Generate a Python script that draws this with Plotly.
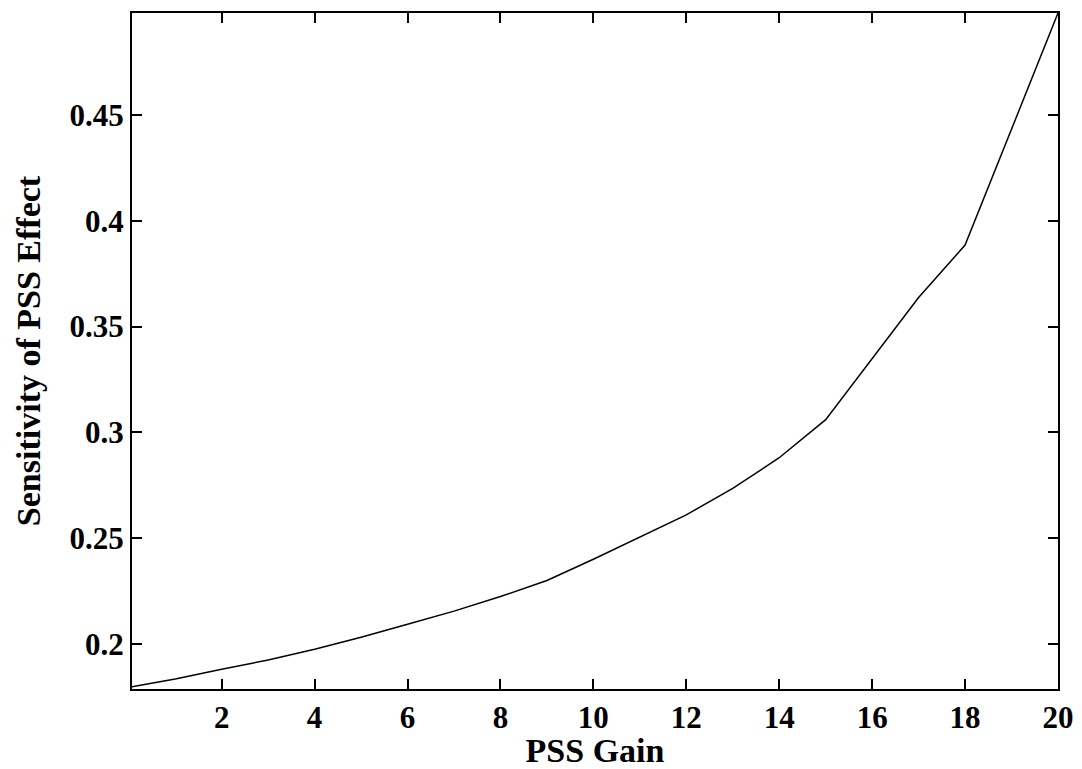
import plotly.graph_objects as go

pss_gain = [0, 1, 2, 3, 4, 5, 6, 7, 8, 9, 10, 11, 12, 13, 14, 15, 16, 17, 18, 19, 20]
sensitivity = [0.1795, 0.1834, 0.1880, 0.1924, 0.1975, 0.2032, 0.2093, 0.2155, 0.2224,
               0.2300, 0.2400, 0.2505, 0.2610, 0.2735, 0.2880, 0.3060, 0.3350, 0.3637,
               0.3885, 0.4435, 0.4982]
x_ticks = [2, 4, 6, 8, 10, 12, 14, 16, 18, 20]
y_ticks = [0.2, 0.25, 0.3, 0.35, 0.4, 0.45]
y_tick_text = ["0.2", "0.25", "0.3", "0.35", "0.4", "0.45"]

font_family = "Liberation Serif"
tick_size = 31
title_size = 34

fig = go.Figure()
fig.add_trace(go.Scatter(x=pss_gain, y=sensitivity, mode="lines",
                         line=dict(color="black", width=1.5), showlegend=False))

axis_common = dict(showline=True, linecolor="black", linewidth=2, mirror="ticks",
                   ticks="inside", ticklen=10, tickwidth=2, tickcolor="black",
                   showgrid=False, zeroline=False, automargin=False,
                   tickfont=dict(family=font_family, size=tick_size, color="black"))

fig.update_xaxes(range=[0.07, 20], tickvals=x_ticks,
                 ticktext=["<b>%s</b>" % t for t in x_ticks],
                 title=dict(text="<b>PSS Gain</b>",
                            font=dict(family=font_family, size=title_size, color="black"),
                            standoff=7),
                 **axis_common)
fig.update_yaxes(range=[0.1787, 0.4982], tickvals=y_ticks,
                 ticktext=["<b>%s</b>" % t for t in y_tick_text],
                 title=dict(text="<b>Sensitivity of PSS Effect</b>",
                            font=dict(family=font_family, size=title_size, color="black"),
                            standoff=19),
                 **axis_common)

fig.update_layout(width=1082, height=769, paper_bgcolor="white", plot_bgcolor="white",
                  margin=dict(l=132, r=24, t=13, b=80),
                  font=dict(family=font_family, size=tick_size, color="black"))

fig.write_html("out.html", config={"displayModeBar": False},
               post_script="document.body.style.margin='0px';")
